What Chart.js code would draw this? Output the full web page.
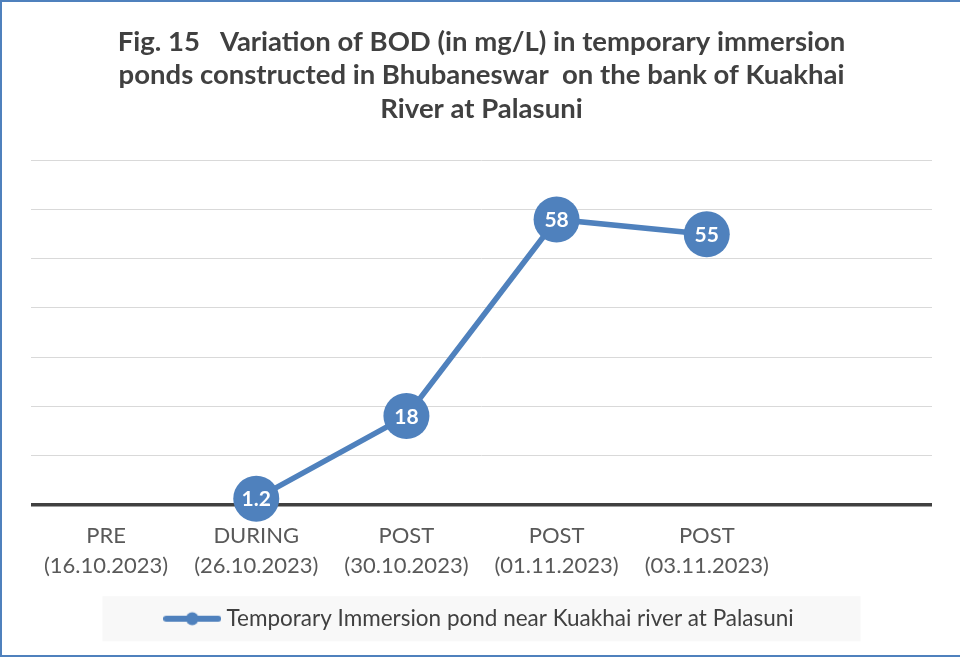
<!DOCTYPE html>
<html>
<head>
<meta charset="utf-8">
<script src="https://cdn.jsdelivr.net/npm/chart.js@4.4.1/dist/chart.umd.min.js"></script>
<style>
  html, body { margin: 0; padding: 0; background: #ffffff; }
  #wrap { width: 960px; height: 658px; position: relative; }
</style>
</head>
<body>
<div id="wrap"><canvas id="c" width="960" height="658"></canvas></div>
<script>
// ---- data ----
const titleLines = [
  "Fig. 15   Variation of BOD (in mg/L) in temporary immersion",
  "ponds constructed in Bhubaneswar  on the bank of Kuakhai",
  "River at Palasuni"
];
const stageNames = ["PRE", "DURING", "POST", "POST", "POST", ""];
const stageDates = ["(16.10.2023)", "(26.10.2023)", "(30.10.2023)", "(01.11.2023)", "(03.11.2023)", ""];
const bodValues = [null, 1.2, 18, 58, 55, null];
const seriesName = "Temporary Immersion pond near Kuakhai river at Palasuni";
const yMin = 0, yMax = 70, yStep = 10;

const labels = stageNames.map((n, i) => n ? [n, stageDates[i]] : "");

const BLUE = "#4F81BD";
const FONT = "Lato, 'Open Sans', sans-serif";

// legend marker: line with a dot
const marker = document.createElement("canvas");
marker.width = 58; marker.height = 16;
(function () {
  const g = marker.getContext("2d");
  g.strokeStyle = BLUE; g.lineWidth = 6; g.lineCap = "round";
  g.beginPath(); g.moveTo(3, 8); g.lineTo(55, 8); g.stroke();
  g.fillStyle = BLUE; g.beginPath(); g.arc(29, 8, 6.5, 0, Math.PI * 2); g.fill();
})();

const bgPlugin = {
  id: "bg",
  beforeDraw(chart) {
    const ctx = chart.ctx;
    ctx.save();
    ctx.fillStyle = "#ffffff";
    ctx.fillRect(0, 0, chart.width, chart.height);
    const lg = chart.legend;
    if (lg && lg.legendHitBoxes && lg.legendHitBoxes.length) {
      const h = lg.legendHitBoxes[0];
      const cx = h.left + h.width / 2;
      const cy = h.top + h.height / 2;
      ctx.fillStyle = "#F8F8F8";
      ctx.fillRect(cx - 379, cy - 22.5, 758, 45);
    }
    ctx.restore();
  },
  afterDraw(chart) {
    const ctx = chart.ctx;
    ctx.save();
    ctx.strokeStyle = BLUE;
    ctx.lineWidth = 2;
    ctx.strokeRect(1, 1, chart.width + 10, chart.height - 3);
    ctx.restore();
  }
};

const labelPlugin = {
  id: "ptlabels",
  afterDatasetsDraw(chart) {
    const ctx = chart.ctx;
    const meta = chart.getDatasetMeta(0);
    const data = chart.data.datasets[0].data;
    ctx.save();
    ctx.fillStyle = "#ffffff";
    ctx.font = "bold 21px " + FONT;
    ctx.textAlign = "center";
    ctx.textBaseline = "middle";
    meta.data.forEach((pt, i) => {
      if (data[i] === null || data[i] === undefined) return;
      ctx.fillText(String(data[i]), pt.x, pt.y + 1);
    });
    ctx.restore();
  }
};

new Chart(document.getElementById("c"), {
  type: "line",
  data: {
    labels: labels,
    datasets: [{
      label: seriesName,
      data: bodValues,
      borderColor: BLUE,
      backgroundColor: BLUE,
      borderWidth: 5.5,
      pointRadius: 23,
      pointHoverRadius: 23,
      pointBackgroundColor: BLUE,
      pointBorderColor: BLUE,
      pointBorderWidth: 0,
      spanGaps: false,
      clip: false,
      tension: 0
    }]
  },
  options: {
    responsive: false,
    animation: false,
    devicePixelRatio: 1,
    layout: { padding: { left: 31, right: 28, top: 0, bottom: 18 } },
    plugins: {
      title: {
        display: true,
        text: titleLines,
        color: "#404040",
        font: { family: FONT, size: 27.5, weight: "bold", lineHeight: 1.218 },
        padding: { top: 25, bottom: 35 }
      },
      legend: {
        display: true,
        position: "bottom",
        labels: {
          usePointStyle: true,
          pointStyle: marker,
          pointStyleWidth: 46,
          boxHeight: 16,
          color: "#404040",
          font: { family: FONT, size: 22.5 },
          padding: 10
        }
      },
      tooltip: { enabled: false }
    },
    scales: {
      x: {
        offset: true,
        grid: { display: false, drawTicks: false },
        border: { display: false },
        ticks: {
          color: "#595959",
          font: { family: FONT, size: 22, lineHeight: 1.34 },
          padding: 17,
          maxRotation: 0,
          autoSkip: false
        }
      },
      y: {
        min: yMin, max: yMax,
        ticks: { display: false, stepSize: yStep },
        border: { display: false },
        grid: {
          drawTicks: false,
          color: (c) => c.tick && c.tick.value === 0 ? "#404040" : "#D9D9D9",
          lineWidth: (c) => c.tick && c.tick.value === 0 ? 3.5 : 1
        },
        afterFit(scale) { scale.width = 0; }
      }
    }
  },
  plugins: [bgPlugin, labelPlugin]
});
</script>
</body>
</html>
